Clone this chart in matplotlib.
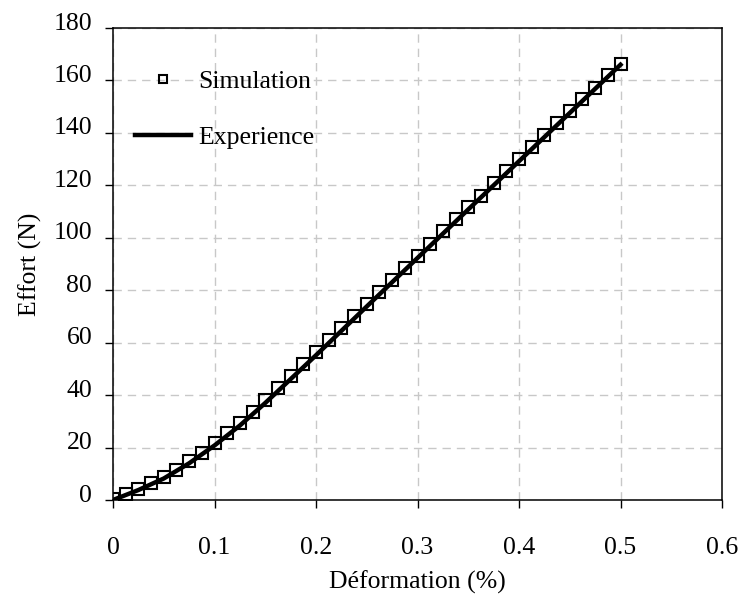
import matplotlib
matplotlib.use('Agg')
import matplotlib.pyplot as plt
import matplotlib.transforms as mtransforms

# Simulated load values (every 0.0125 % strain)
sim_strain = [0.0, 0.0125, 0.025, 0.0375, 0.05, 0.0625, 0.075, 0.0875, 0.1,
              0.1125, 0.125, 0.1375, 0.15, 0.1625, 0.175, 0.1875, 0.2,
              0.2125, 0.225, 0.2375, 0.25, 0.2625, 0.275, 0.2875, 0.3,
              0.3125, 0.325, 0.3375, 0.35, 0.3625, 0.375, 0.3875, 0.4,
              0.4125, 0.425, 0.4375, 0.45, 0.4625, 0.475, 0.4875, 0.5]
sim_force = [0.5, 2.3, 4.3, 6.3, 8.8, 11.5, 14.7, 18.0, 21.6,
             25.5, 29.3, 33.7, 38.2, 42.7, 47.3, 51.8, 56.3,
             61.0, 65.6, 70.2, 74.8, 79.4, 84.0, 88.6, 93.2,
             97.8, 102.4, 107.0, 111.6, 116.1, 120.7, 125.3, 129.9,
             134.5, 139.1, 143.7, 148.2, 152.8, 157.3, 161.9, 166.4]

# Measured curve
exp_strain = [0.0, 0.025, 0.05, 0.075, 0.1, 0.125, 0.15, 0.2, 0.25,
              0.3, 0.35, 0.4, 0.45, 0.5]
exp_force = [0.0, 3.8, 8.2, 14.0, 20.8, 28.4, 37.0, 55.2, 73.8,
             92.3, 110.8, 129.2, 147.6, 166.0]

x_ticks = [0, 0.1, 0.2, 0.3, 0.4, 0.5, 0.6]
x_tick_labels = ['0', '0.1', '0.2', '0.3', '0.4', '0.5', '0.6']
y_ticks = [0, 20, 40, 60, 80, 100, 120, 140, 160, 180]

plt.rcParams['font.family'] = ['Liberation Serif', 'DejaVu Serif']

fig = plt.figure(figsize=(7.52, 5.97), dpi=100)
ax = fig.add_axes([113 / 752, 97 / 597, 609 / 752, 472 / 597])

ax.plot(sim_strain, sim_force, linestyle='none', marker='s', markersize=8.5,
        markerfacecolor='none', markeredgecolor='black', markeredgewidth=1.5,
        label='Simulation', zorder=3)
ax.plot(exp_strain, exp_force, color='black', linewidth=3.2,
        label='Experience', zorder=4)

ax.set_xlim(0, 0.6)
ax.set_ylim(0, 180)
ax.set_xticks(x_ticks)
ax.set_xticklabels(x_tick_labels)
ax.set_yticks(y_ticks)

ax.grid(True, color='#c8c8c8', linestyle=(0, (6, 4.3)), linewidth=1.0)
ax.set_axisbelow(True)

for spine in ax.spines.values():
    spine.set_linewidth(1.1)
    spine.set_color('black')

ax.tick_params(axis='both', direction='out', length=6, width=1.0,
               labelsize=18.5, colors='black')
ax.tick_params(axis='x', pad=21)
ax.tick_params(axis='y', pad=9)

# y tick labels sit a little above their ticks
shift = mtransforms.ScaledTranslation(0, 5 / 72, fig.dpi_scale_trans)
for lbl in ax.get_yticklabels():
    lbl.set_transform(lbl.get_transform() + shift)

ax.set_xlabel('Déformation (%)', fontsize=18.5, labelpad=8)
ax.set_ylabel('Effort (N)', fontsize=18.5, labelpad=8)

ax.legend(loc='upper left', bbox_to_anchor=(0.036, 0.912), frameon=False,
          fontsize=18.5, handlelength=2.2, handletextpad=0.25,
          labelspacing=1.3, borderpad=0, borderaxespad=0, markerscale=0.72)

fig.savefig('out.png', dpi=100)
